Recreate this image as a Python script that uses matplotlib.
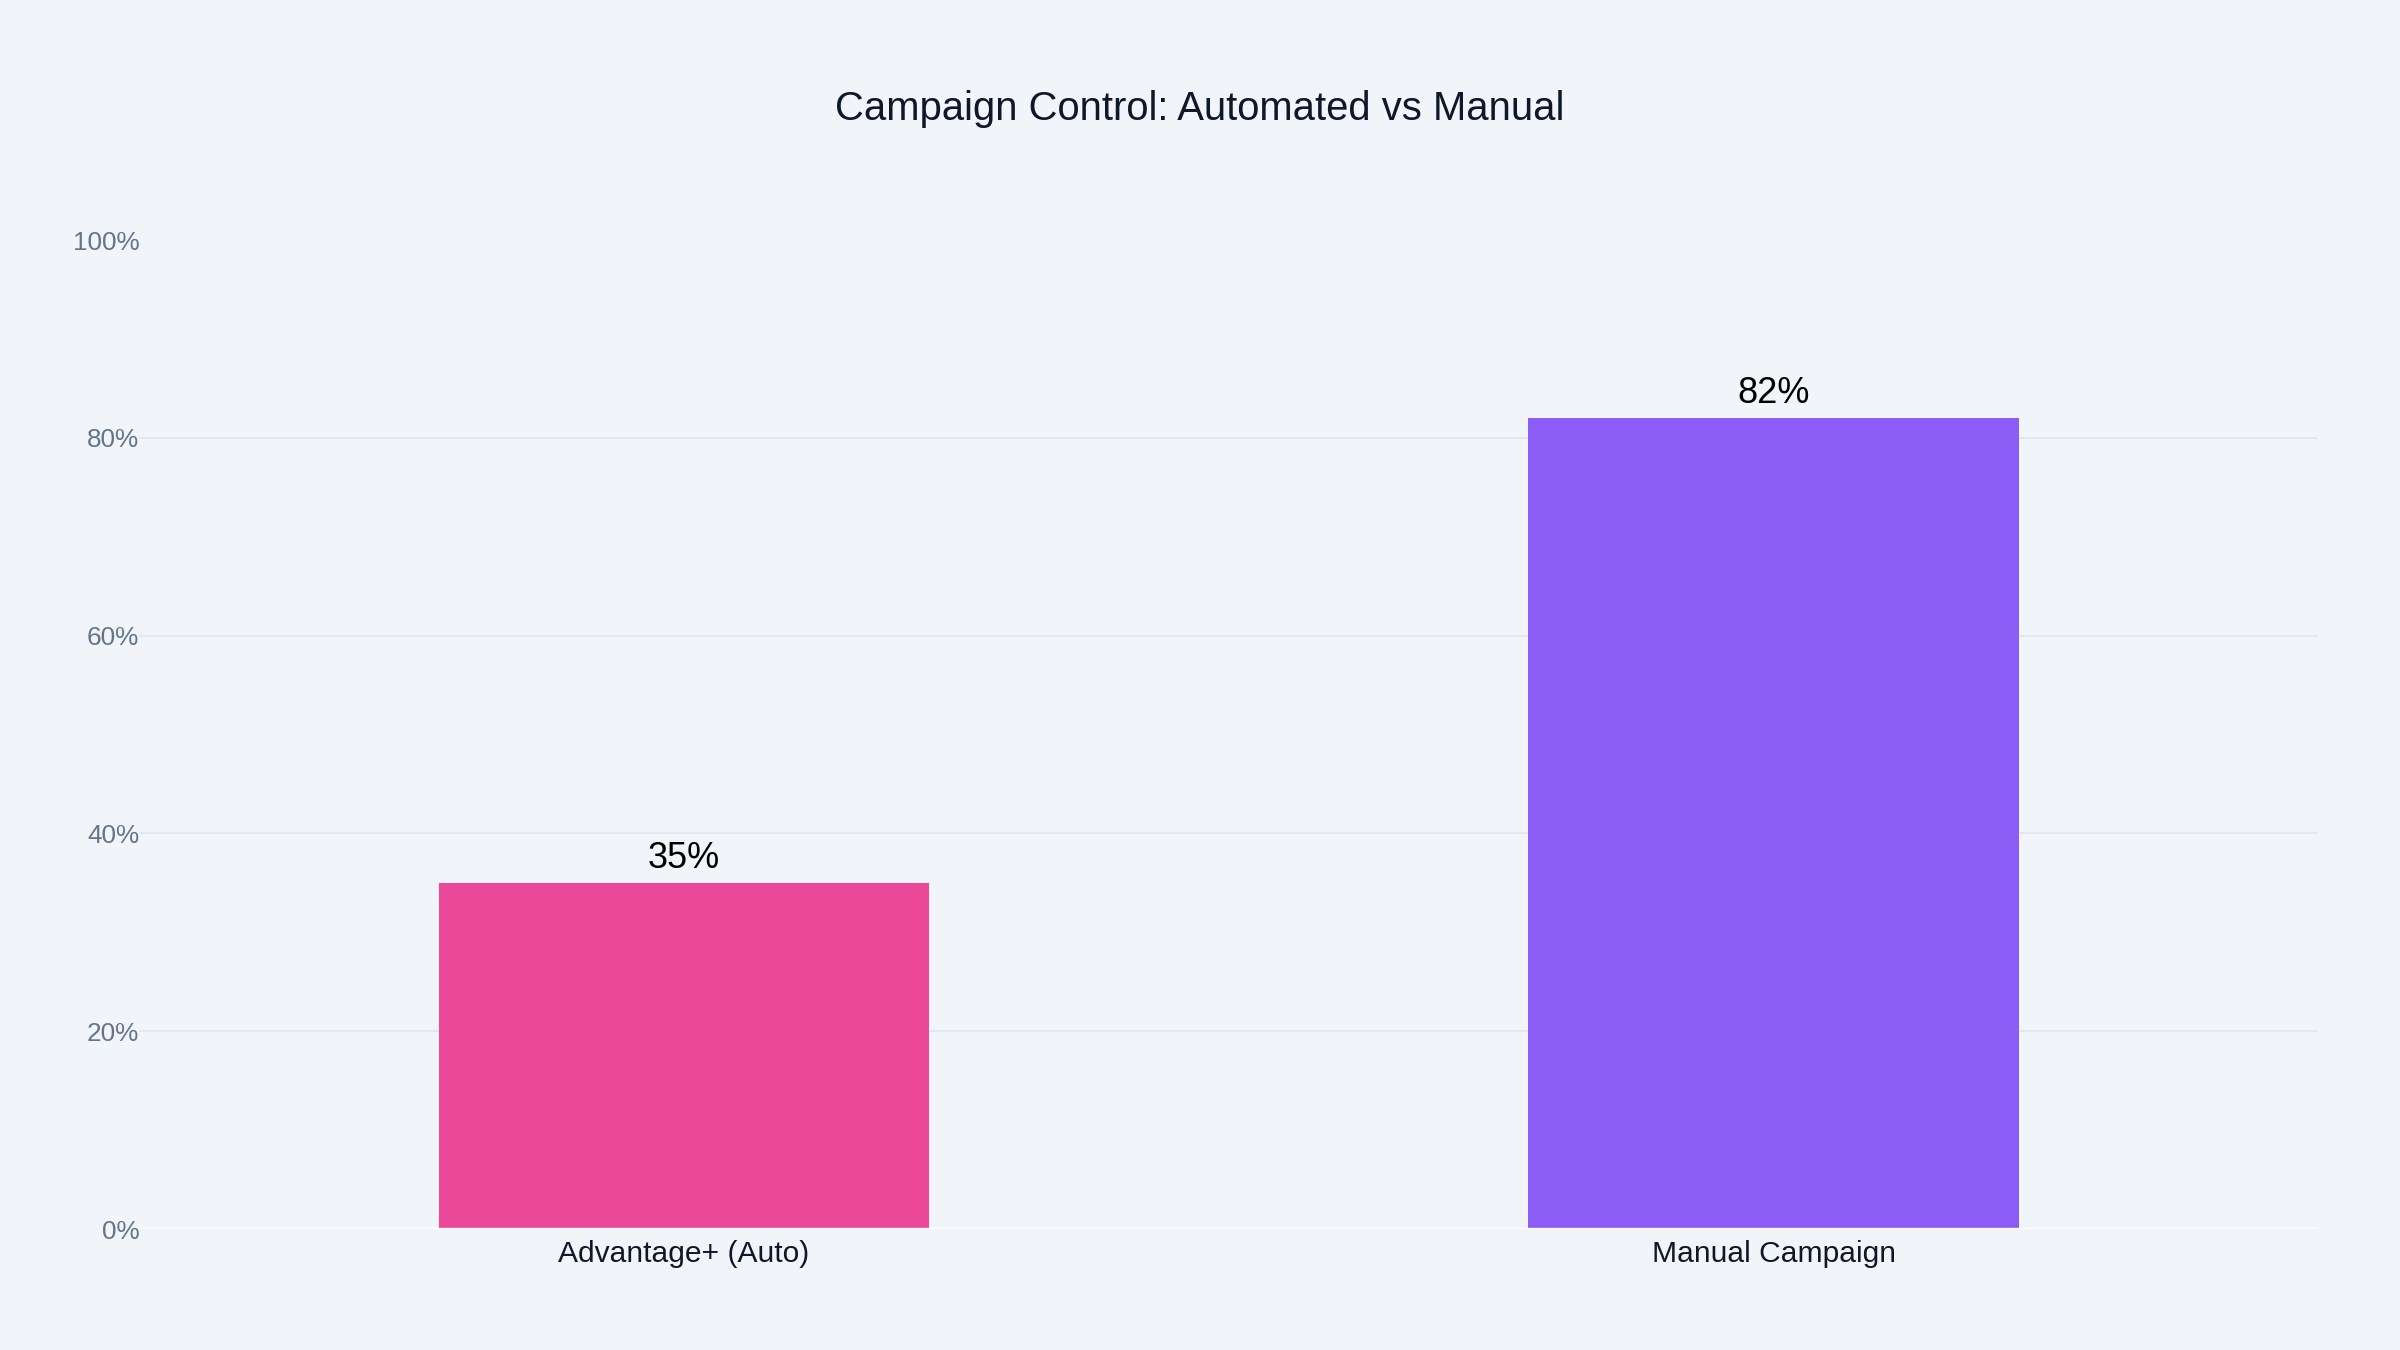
import matplotlib.pyplot as plt
from matplotlib.ticker import FuncFormatter

plt.rcParams['font.family'] = ['Liberation Sans', 'DejaVu Sans']

categories = ['Advantage+ (Auto)', 'Manual Campaign']
control_pct = [35, 82]
bar_colors = ['#EC4899', '#8B5CF6']
y_ticks = [0, 20, 40, 60, 80, 100]

bg = '#F1F5F9'

fig = plt.figure(figsize=(12, 6.75), dpi=200, facecolor=bg)
ax = fig.add_axes([0.058, 0.0896, 0.908, 0.7326], facecolor=bg)

x = range(len(categories))
bars = ax.bar(x, control_pct, width=0.45, color=bar_colors, zorder=3)

for rect, val in zip(bars, control_pct):
    ax.annotate(f"{val}%", (rect.get_x() + rect.get_width() / 2, rect.get_height()),
                textcoords="offset points", xytext=(0, 2.4), ha='center', va='bottom',
                fontsize=13, color='#000000', zorder=4)

ax.set_xlim(-0.5, 1.5)
ax.set_ylim(0, 100)
ax.set_xticks(list(x))
ax.set_xticklabels(categories, fontsize=10.8, color='#0F172A')
ax.set_yticks(y_ticks)
ax.yaxis.set_major_formatter(FuncFormatter(lambda v, p: f"{v:.0f}%"))
ax.tick_params(axis='y', length=0, pad=0, labelsize=9.4, labelcolor='#64748B')
ax.tick_params(axis='x', length=0, pad=4)

for t in y_ticks[1:-1]:
    ax.axhline(t, color='#E2E8F0', linewidth=0.7, zorder=1)
ax.axhline(0, color='white', linewidth=1.2, zorder=5)

for s in ax.spines.values():
    s.set_visible(False)

fig.text(0.5, 0.919, 'Campaign Control: Automated vs Manual', ha='center', va='center',
         fontsize=14.4, color='#0F172A')

fig.savefig('out.png', dpi=200, facecolor=bg)
